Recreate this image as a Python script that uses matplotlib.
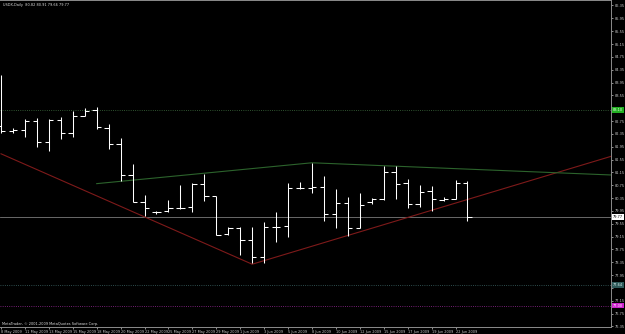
import matplotlib
matplotlib.use("Agg")
import matplotlib.pyplot as plt
import matplotlib.transforms as mtransforms

title_text = "USDX,Daily  80.82 80.91 79.66 79.77"
copyright_text = "MetaTrader, \u00a9 2001-2009 MetaQuotes Software Corp."

date_labels = ["8 May 2009", "11 May 2009", "13 May 2009", "15 May 2009", "18 May 2009",
               "20 May 2009", "22 May 2009", "25 May 2009", "27 May 2009", "29 May 2009",
               "1 Jun 2009", "3 Jun 2009", "5 Jun 2009", "8 Jun 2009", "10 Jun 2009",
               "12 Jun 2009", "15 Jun 2009", "17 Jun 2009", "19 Jun 2009", "22 Jun 2009"]

opens  = [82.60, 82.44, 82.47, 82.75, 82.10, 82.78, 82.38, 82.91, 83.09, 82.53,
          82.03, 81.07, 80.23, 79.93, 79.95, 80.04, 80.07, 80.80, 80.42, 79.23,
          79.43, 79.04, 78.51, 79.46, 79.48, 80.67, 80.65, 80.69, 79.85, 80.21,
          79.41, 80.24, 80.31, 81.15, 80.81, 80.18, 80.56, 80.30, 80.33, 80.81]
highs  = [84.18, 82.54, 82.81, 82.84, 82.81, 82.88, 83.06, 83.16, 83.19, 82.66,
          82.22, 81.41, 80.45, 79.96, 80.29, 80.76, 80.82, 81.10, 80.42, 79.45,
          79.45, 79.45, 79.61, 79.92, 80.82, 80.85, 81.45, 81.05, 80.63, 80.38,
          80.52, 80.36, 81.36, 81.35, 80.94, 80.76, 80.73, 80.37, 80.90, 80.89]
lows   = [82.38, 82.39, 82.25, 81.94, 81.82, 82.19, 82.25, 82.91, 82.50, 81.88,
          80.88, 80.23, 79.79, 79.85, 79.92, 80.01, 79.92, 80.26, 79.20, 79.20,
          78.58, 78.33, 78.33, 78.98, 79.14, 80.63, 80.51, 79.65, 79.43, 79.17,
          79.41, 80.17, 80.29, 80.32, 80.03, 80.06, 79.95, 80.27, 80.33, 79.65]
closes = [82.44, 82.47, 82.75, 82.10, 82.78, 82.38, 82.91, 83.06, 82.56, 82.03,
          81.07, 80.23, 80.04, 79.93, 80.04, 80.04, 80.80, 80.42, 79.20, 79.43,
          79.04, 78.51, 79.46, 79.46, 80.67, 80.65, 80.70, 79.85, 80.21, 79.41,
          80.13, 80.31, 81.16, 80.80, 80.18, 80.55, 80.33, 80.32, 80.81, 79.77]

price_ticks = [86.35, 85.95, 85.55, 85.15, 84.75, 84.35, 83.95, 83.55, 83.15, 82.75,
               82.35, 81.95, 81.55, 81.15, 80.75, 80.35, 79.95, 79.55, 79.15, 78.75,
               78.35, 77.95, 77.55, 77.15, 76.75, 76.35]
# tick labels hidden behind the coloured price boxes in the reference
hidden_tick_labels = [83.15, 77.55]

red_line_bars = [0, 21, 51]
red_line_prices = [81.73, 78.29, 81.65]
green_line_bars = [8, 26, 51]
green_line_prices = [80.80, 81.45, 81.07]

level_prices = [83.10, 79.77, 77.64, 77.00]
level_labels = ["83.10", "79.77", "77.64", "77.00"]
level_line_colors = ["#3f6f3f", "#7a7a7a", "#3d6868", "#9a2a9a"]
level_line_styles = [":", "-", ":", ":"]
level_box_colors = ["#22b022", "#ffffff", "#2f5a5a", "#cc22cc"]
level_text_colors = ["#eaffea", "#000000", "#d8f0f0", "#ffffff"]

W, H = 625, 334
fig = plt.figure(figsize=(W / 100, H / 100), dpi=100, facecolor="black")
ax = fig.add_axes([0, 7 / H, 611 / W, 327 / H], facecolor="black")

n = len(opens)
xs = list(range(n))
tick = 0.36
lw = 0.75
ax.vlines(xs, lows, highs, color="white", lw=lw, zorder=3)
ax.hlines(opens, [x - tick for x in xs], xs, color="white", lw=lw, zorder=3)
ax.hlines(closes, xs, [x + tick for x in xs], color="white", lw=lw, zorder=3)

ax.plot(red_line_bars, red_line_prices, color="#7e1a1a", lw=0.8, zorder=2)
ax.plot(green_line_bars, green_line_prices, color="#2c632c", lw=0.8, zorder=2)

trans = mtransforms.blended_transform_factory(ax.transAxes, ax.transData)
for p, lab, lc, ls, bc, tc in zip(level_prices, level_labels, level_line_colors,
                                   level_line_styles, level_box_colors, level_text_colors):
    ax.axhline(p, color=lc, ls=ls, lw=0.6, zorder=1)
    ax.text(1.003, p, lab, transform=trans, fontsize=2.5, color=tc, ha="left", va="center",
            clip_on=False, zorder=10,
            bbox=dict(boxstyle="square,pad=0.25", fc=bc, ec="none"))

ax.set_xlim(-0.084, 51.0)
ax.set_ylim(76.334, 86.521)

ax.yaxis.tick_right()
ax.set_yticks(price_ticks)
ax.set_yticklabels(["" if v in hidden_tick_labels else f"{v:.2f}" for v in price_ticks])
ax.tick_params(axis="y", colors="#c8c8c8", labelsize=2.5, length=1.5, width=0.5, pad=1.2)

ax.set_xticks(xs[::2])
ax.set_xticklabels(date_labels)
ax.tick_params(axis="x", colors="#c8c8c8", labelsize=2.5, length=1.5, width=0.5, pad=0.6)
for lbl in ax.get_xticklabels():
    lbl.set_ha("left")

ax.spines["left"].set_visible(False)
for side in ["top", "right", "bottom"]:
    ax.spines[side].set_color("#8c8c8c")
    ax.spines[side].set_linewidth(0.7)

ax.text(0.005, 0.984, title_text, transform=ax.transAxes, fontsize=2.5, color="#e0e0e0",
        ha="left", va="center")
ax.text(0.004, 0.009, copyright_text, transform=ax.transAxes, fontsize=2.5, color="#e0e0e0",
        ha="left", va="center")

fig.savefig("out.png", dpi=100, facecolor="black")
